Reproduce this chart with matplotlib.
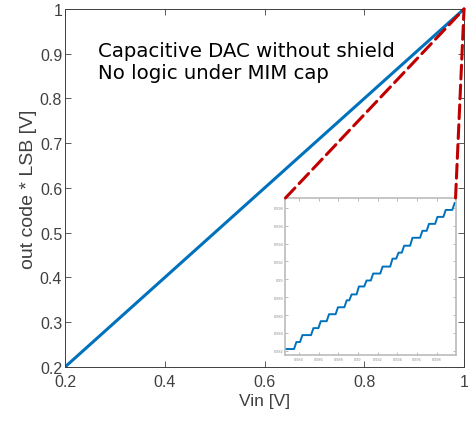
import matplotlib.pyplot as plt
from matplotlib.patches import ConnectionPatch

# main transfer curve
vin = [0.2, 1.0]
out_code = [0.2, 1.0]

# zoomed staircase near full scale
step_x = [0.98362, 0.98423, 0.98535, 0.98610, 0.98694, 0.98785, 0.98874,
          0.98924, 0.98998, 0.99076, 0.99143, 0.99239, 0.99340, 0.99401,
          0.99458, 0.99543, 0.99644, 0.99711, 0.99797, 0.99881, 0.99972]
levels = [0.98219, 0.98297, 0.98375, 0.98453, 0.98531, 0.98609, 0.98687,
          0.98765, 0.98831, 0.98920, 0.98987, 0.99065, 0.99143, 0.99232,
          0.99299, 0.99377, 0.99466, 0.99544, 0.99622, 0.99700, 0.99778,
          0.99856]
zoom_start = 0.98265
zoom_end = 0.99990

xticks_main = [0.2, 0.4, 0.6, 0.8, 1.0]
xticklabels_main = ["0.2", "0.4", "0.6", "0.8", "1"]
yticks_main = [0.2, 0.3, 0.4, 0.5, 0.6, 0.7, 0.8, 0.9, 1.0]
yticklabels_main = ["0.2", "0.3", "0.4", "0.5", "0.6", "0.7", "0.8", "0.9", "1"]
xticks_zoom = [0.984, 0.986, 0.988, 0.99, 0.992, 0.994, 0.996, 0.998]
yticks_zoom = [0.982, 0.984, 0.986, 0.988, 0.99, 0.992, 0.994, 0.996, 0.998]

blue = "#0072BD"
grey = "#404040"

plt.rcParams['font.family'] = ['Liberation Sans', 'DejaVu Sans']

fig = plt.figure(figsize=(4.68, 4.27), dpi=100)
ax = fig.add_axes([0.1389, 0.1382, 0.8526, 0.8384])
ax.plot(vin, out_code, color=blue, lw=2.2)
ax.set_xlim(0.2, 1.0)
ax.set_ylim(0.2, 1.0)
ax.set_xticks(xticks_main)
ax.set_xticklabels(xticklabels_main)
ax.set_yticks(yticks_main)
ax.set_yticklabels(yticklabels_main)
ax.tick_params(direction='in', length=4, width=0.6, colors=grey,
               labelsize=11.5, top=True, right=True, pad=2)
ax.tick_params(axis='x', pad=5)
for s in ax.spines.values():
    s.set_color(grey)
    s.set_linewidth(0.7)
ax.set_xlabel("Vin [V]", fontsize=12.5, color=grey, labelpad=3)
ax.set_ylabel("out code * LSB [V]", fontsize=14, color=grey, labelpad=2)

ax.text(0.2662, 0.8816,
        "Capacitive DAC without shield\nNo logic under MIM cap",
        fontsize=14.2, family=['DejaVu Sans'], va='center', ha='left',
        linespacing=1.2)

# build the staircase path from the step data
hw = 0.00012
xs = [zoom_start]
ys = [levels[0]]
for i, sx in enumerate(step_x):
    xs += [sx - hw, sx + hw]
    ys += [levels[i], levels[i + 1]]
xs.append(zoom_end)
ys.append(levels[-1])

axi = fig.add_axes([0.610, 0.1663, 0.3634, 0.3677])
axi.plot(xs, ys, color=blue, lw=1.4)
axi.set_xlim(0.98263, 0.99993)
axi.set_ylim(0.98152, 0.99912)
axi.set_xticks(xticks_zoom)
axi.set_xticklabels([f"{v:g}" for v in xticks_zoom])
axi.set_yticks(yticks_zoom)
axi.set_yticklabels([f"{v:g}" for v in yticks_zoom])
axi.tick_params(direction='in', length=2, width=0.4, colors="#888888",
                labelsize=2.8, top=True, right=True, pad=1.5)
for s in axi.spines.values():
    s.set_color("#bbbbbb")
    s.set_linewidth(1.2)

# dashed zoom connectors
for corner in [(0, 1), (1, 1)]:
    con = ConnectionPatch(xyA=corner, coordsA=axi.transAxes,
                          xyB=(1.0, 1.0), coordsB=ax.transData,
                          color="#C00000", lw=2.2, linestyle=(0, (4.5, 2)))
    fig.add_artist(con)

fig.savefig("out.png", dpi=100)
